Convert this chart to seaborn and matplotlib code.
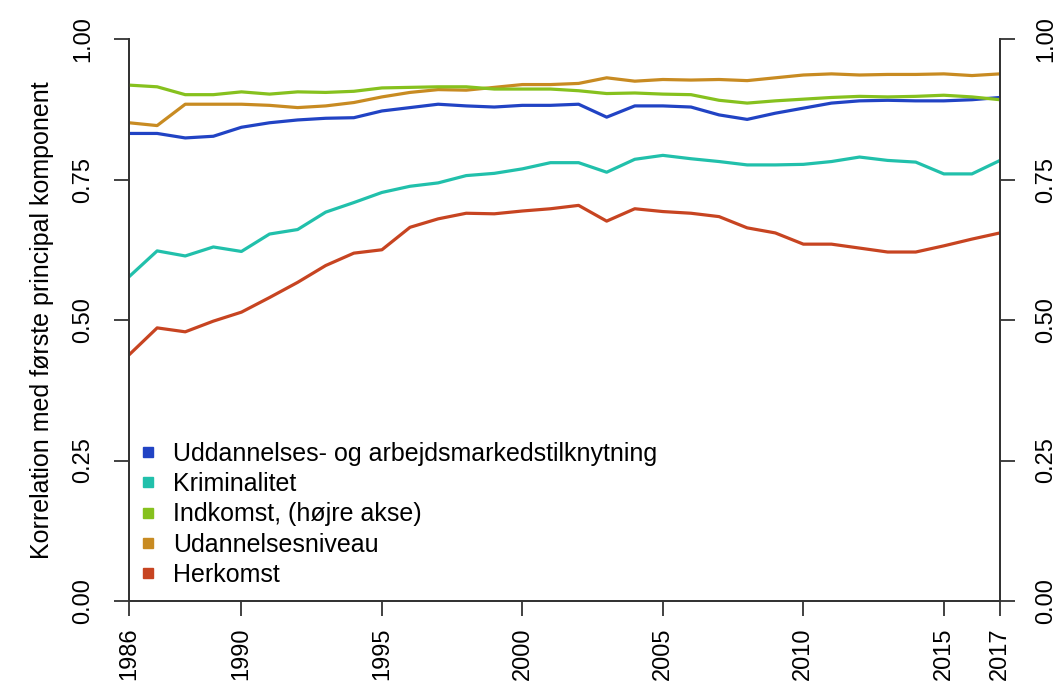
import matplotlib
matplotlib.use("Agg")
import matplotlib.pyplot as plt
from matplotlib.lines import Line2D
import seaborn as sns
import pandas as pd

years = list(range(1986, 2018))

uddannelse_arbejde = [0.832, 0.832, 0.824, 0.827, 0.843, 0.851, 0.856, 0.859, 0.860, 0.872,
                      0.878, 0.884, 0.881, 0.879, 0.882, 0.882, 0.884, 0.861, 0.881, 0.881,
                      0.879, 0.865, 0.857, 0.868, 0.877, 0.886, 0.890, 0.891, 0.890, 0.890,
                      0.892, 0.896]
kriminalitet = [0.577, 0.623, 0.614, 0.630, 0.622, 0.653, 0.661, 0.692, 0.709, 0.727,
                0.738, 0.744, 0.757, 0.761, 0.769, 0.780, 0.780, 0.763, 0.786, 0.793,
                0.787, 0.782, 0.776, 0.776, 0.777, 0.782, 0.790, 0.784, 0.781, 0.760,
                0.760, 0.784]
indkomst = [0.918, 0.915, 0.901, 0.901, 0.906, 0.902, 0.906, 0.905, 0.907, 0.913,
            0.914, 0.915, 0.915, 0.911, 0.911, 0.911, 0.908, 0.903, 0.904, 0.902,
            0.901, 0.891, 0.886, 0.890, 0.893, 0.896, 0.898, 0.897, 0.898, 0.900,
            0.897, 0.892]
udannelsesniveau = [0.851, 0.846, 0.884, 0.884, 0.884, 0.882, 0.878, 0.881, 0.887, 0.897,
                    0.905, 0.910, 0.909, 0.914, 0.919, 0.919, 0.921, 0.931, 0.925, 0.928,
                    0.927, 0.928, 0.926, 0.931, 0.936, 0.938, 0.936, 0.937, 0.937, 0.938,
                    0.935, 0.938]
herkomst = [0.438, 0.486, 0.479, 0.498, 0.514, 0.540, 0.567, 0.597, 0.619, 0.625,
            0.665, 0.680, 0.690, 0.689, 0.694, 0.698, 0.704, 0.676, 0.698, 0.693,
            0.690, 0.684, 0.664, 0.655, 0.635, 0.635, 0.628, 0.621, 0.621, 0.632,
            0.644, 0.655]

labels = ["Uddannelses- og arbejdsmarkedstilknytning", "Kriminalitet",
          "Indkomst, (højre akse)", "Udannelsesniveau", "Herkomst"]
colors = ["#2143c4", "#21c0ab", "#86c11e", "#c88b22", "#c74421"]
x_ticks = [1986, 1990, 1995, 2000, 2005, 2010, 2015, 2017]
y_ticks = [0.0, 0.25, 0.5, 0.75, 1.0]
y_label = "Korrelation med første principal komponent"

series = [uddannelse_arbejde, kriminalitet, indkomst, udannelsesniveau, herkomst]
df = pd.DataFrame({
    "år": years * len(series),
    "værdi": sum(series, []),
    "serie": sum([[lab] * len(years) for lab in labels], []),
})

sns.set_theme(style="white")
plt.rcParams["font.family"] = ["Liberation Sans", "DejaVu Sans"]
plt.rcParams["text.color"] = "black"
plt.rcParams["xtick.color"] = "black"
plt.rcParams["ytick.color"] = "black"
plt.rcParams["axes.labelcolor"] = "black"

FS = 18      # legend and axis title
TFS = 17     # tick labels

fig = plt.figure(figsize=(10.56, 6.86), dpi=100)
ax = fig.add_axes([0.1222, 0.1239, 0.8248, 0.8192])
ax2 = ax.twinx()

left_df = df[df["serie"] != labels[2]]
right_df = df[df["serie"] == labels[2]]
pal = dict(zip(labels, colors))
sns.lineplot(data=left_df, x="år", y="værdi", hue="serie", palette=pal,
             linewidth=2.3, ax=ax, legend=False)
sns.lineplot(data=right_df, x="år", y="værdi", hue="serie", palette=pal,
             linewidth=2.3, ax=ax2, legend=False)

for a in (ax, ax2):
    a.set_xlim(1986, 2017)
    a.set_ylim(0, 1)
    a.set_yticks(y_ticks)
    a.set_yticklabels([f"{v:.2f}" for v in y_ticks], rotation=90, va="center",
                      fontsize=TFS)
    a.set_xlabel("")
    a.set_ylabel("")
    for s in a.spines.values():
        s.set_color("#333333")
        s.set_linewidth(1.3)
    a.spines["top"].set_visible(False)

ax.set_xticks(x_ticks)
ax.set_xticklabels([str(v) for v in x_ticks], rotation=90, fontsize=TFS)
ax.tick_params(axis="both", direction="out", length=11, width=1.3,
               color="#333333", left=True, bottom=True)
ax.tick_params(axis="y", pad=14)
ax.tick_params(axis="x", pad=8)
ax2.tick_params(axis="y", direction="out", length=11, width=1.3,
                color="#333333", pad=14, right=True)
ax.set_ylabel(y_label, fontsize=FS, labelpad=13)

handles = [Line2D([], [], linestyle="none", marker="s", markersize=7,
                  color=c) for c in colors]
ax.legend(handles, labels, loc="lower left", bbox_to_anchor=(-0.005, 0.003),
          frameon=False, fontsize=FS, handlelength=0.9, handletextpad=0.55,
          labelspacing=0.25, borderaxespad=0.3, borderpad=0.2)

fig.savefig("out.png", dpi=100)
